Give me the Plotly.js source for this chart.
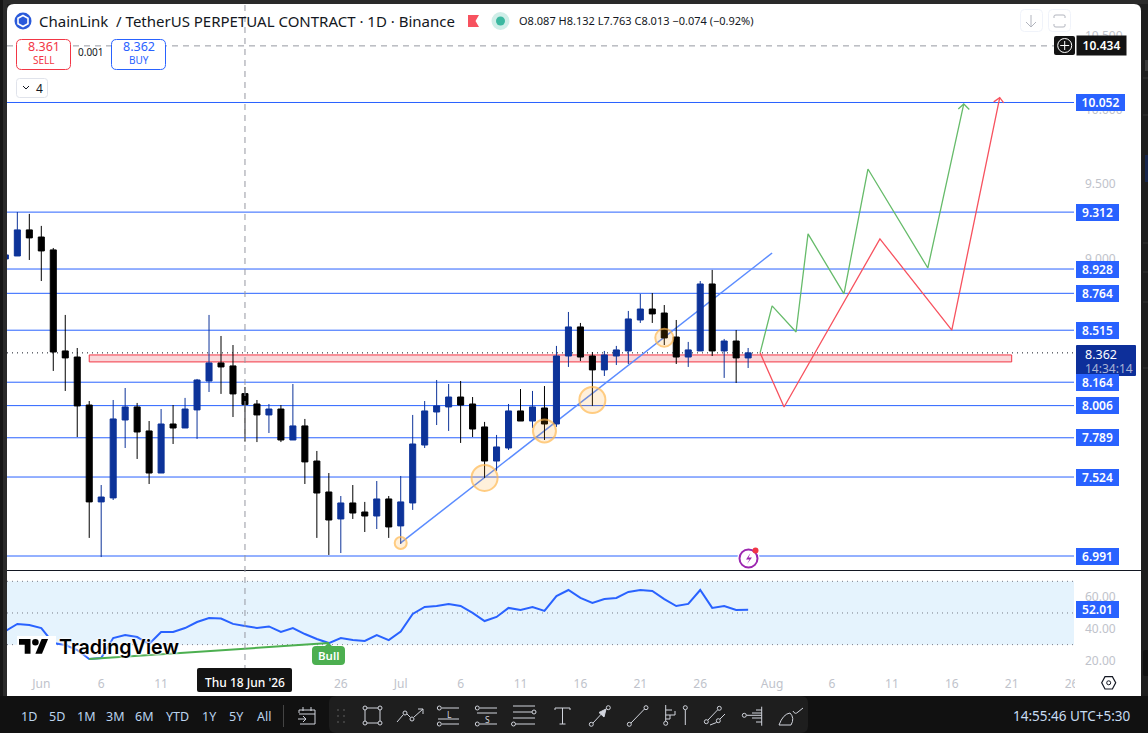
<!DOCTYPE html>
<html><head><meta charset="utf-8">
<script src="https://cdn.plot.ly/plotly-3.0.1.min.js"></script>
<style>html,body{margin:0;padding:0;background:#1e1e1e;overflow:hidden}#c{width:1148px;height:733px}</style>
</head><body><div id="c"></div>
<script>
// ---- data ----
const dates=['2026-05-29','2026-05-30','2026-05-31','2026-06-01','2026-06-02','2026-06-03','2026-06-04','2026-06-05','2026-06-06','2026-06-07','2026-06-08','2026-06-09','2026-06-10','2026-06-11','2026-06-12','2026-06-13','2026-06-14','2026-06-15','2026-06-16','2026-06-17','2026-06-18','2026-06-19','2026-06-20','2026-06-21','2026-06-22','2026-06-23','2026-06-24','2026-06-25','2026-06-26','2026-06-27','2026-06-28','2026-06-29','2026-06-30','2026-07-01','2026-07-02','2026-07-03','2026-07-04','2026-07-05','2026-07-06','2026-07-07','2026-07-08','2026-07-09','2026-07-10','2026-07-11','2026-07-12','2026-07-13','2026-07-14','2026-07-15','2026-07-16','2026-07-17','2026-07-18','2026-07-19','2026-07-20','2026-07-21','2026-07-22','2026-07-23','2026-07-24','2026-07-25','2026-07-26','2026-07-27','2026-07-28','2026-07-29','2026-07-30'];
const opens=[8.996,9.016,9.192,9.144,9.057,8.375,8.334,8.010,7.356,7.383,7.909,7.997,7.835,7.551,7.882,7.855,7.977,8.172,8.294,8.274,8.087,8.017,7.943,7.983,7.774,7.869,7.632,7.423,7.241,7.349,7.288,7.261,7.376,7.194,7.349,7.740,7.963,7.997,8.064,8.017,7.862,7.632,7.720,7.970,7.902,7.990,7.882,8.341,8.537,8.341,8.247,8.341,8.375,8.584,8.658,8.631,8.469,8.334,8.375,8.827,8.375,8.442,8.328];
const highs=[9.057,9.313,9.300,9.219,9.070,8.618,8.395,8.037,7.470,8.044,8.125,8.024,7.902,7.983,8.010,8.058,8.186,8.618,8.476,8.415,8.132,8.044,8.017,8.010,8.152,7.916,7.700,7.551,7.396,7.470,7.356,7.497,7.396,7.531,7.943,8.037,8.179,8.152,8.172,8.064,7.896,7.808,8.017,8.118,8.105,8.138,8.409,8.638,8.564,8.368,8.375,8.409,8.645,8.760,8.766,8.685,8.584,8.436,8.847,8.922,8.456,8.516,8.395];
const lows=[8.976,9.016,8.989,8.847,8.240,8.105,7.794,7.113,6.984,7.369,7.720,7.646,7.477,7.551,7.747,7.855,7.781,8.098,8.085,7.929,7.763,7.760,7.821,7.760,7.774,7.477,7.113,6.998,7.011,7.241,7.153,7.173,7.113,7.072,7.302,7.720,7.875,7.835,7.754,7.794,7.518,7.565,7.707,7.902,7.855,7.774,7.862,8.267,8.307,8.004,8.206,8.280,8.287,8.564,8.564,8.415,8.287,8.267,8.375,8.341,8.193,8.159,8.260];
const closes=[9.023,9.192,9.138,9.050,8.368,8.328,8.004,7.356,7.389,7.916,7.997,7.828,7.551,7.882,7.855,7.983,8.179,8.294,8.267,8.085,8.013,7.943,7.983,7.774,7.869,7.626,7.416,7.234,7.349,7.281,7.261,7.376,7.187,7.356,7.747,7.970,8.004,8.064,8.010,7.848,7.632,7.727,7.970,7.902,7.997,7.882,8.341,8.537,8.334,8.247,8.348,8.382,8.591,8.658,8.625,8.463,8.334,8.382,8.827,8.375,8.442,8.328,8.362];
const rsi=[38.6,43.05,42.4,40.5,31.0,29.8,26.6,20.9,21.6,34.2,36.1,34.8,30.4,38.0,38.0,40.5,44.3,46.8,46.5,43.1,41.8,40.5,41.5,38.0,40.5,36.7,33.6,31.0,34.2,32.9,32.3,36.1,32.9,38.2,49.4,53.8,54.4,55.7,54.4,50.0,44.9,47.5,53.2,51.9,53.8,51.3,60.7,64.5,59.5,56.3,58.8,59.5,63.3,64.5,63.9,58.8,54.4,55.7,64.5,53.2,54.4,51.9,52.01];
const levels=[10.052,9.312,8.928,8.764,8.515,8.164,8.006,7.789,7.524,6.991];
const priceTicks=[10.5,10,9.5,9];
const rsiTicks=[60,40,20];
const rsiBands=[70,50,30];
const timeTickDates=['2026-06-01','2026-06-06','2026-06-11','2026-06-26','2026-07-01','2026-07-06','2026-07-11','2026-07-16','2026-07-21','2026-07-26','2026-08-01','2026-08-06','2026-08-11','2026-08-16','2026-08-21','2026-08-26'];
const timeTickLabels=['Jun','6','11','26','Jul','6','11','16','21','26','Aug','6','11','16','21','26'];
const greenX=['2026-07-31','2026-08-01','2026-08-03','2026-08-04','2026-08-07','2026-08-09','2026-08-14','2026-08-17'];
const greenY=[8.362,8.679,8.503,9.165,8.760,9.603,8.935,10.042];
const greenHeadX=['2026-08-16 13:00','2026-08-17','2026-08-17 11:00'];
const greenHeadY=[10.008,10.042,10.005];
const redX=['2026-07-31','2026-08-02','2026-08-10','2026-08-16','2026-08-20'];
const redY=[8.362,7.997,9.131,8.516,10.085];
const redHeadX=['2026-08-19 12:00','2026-08-20','2026-08-20 08:00'];
const redHeadY=[10.056,10.085,10.050];
const trendX=['2026-07-01','2026-08-01'];
const trendY=[7.079,9.036];
const circleX=['2026-07-01','2026-07-08','2026-07-13','2026-07-17','2026-07-23'];
const circleY=[7.079,7.518,7.835,8.044,8.464];
const zoneX=['2026-06-05','2026-08-21'];
const zoneY=[8.348,8.301];
const bullX=['2026-06-05','2026-06-25'];
const bullY=[20.9,31.0];
const crossDate='2026-06-18';
const crossPrice=10.434;
const lastPrice=8.362;
const lastRsi=52.01;

// ---- page geometry helpers ----
const W=1148,H=733;
const FONT='"Noto Sans",sans-serif';
const BLUE='#2962ff';
const fx=x=>x/W, fy=y=>1-y/H;
const P=d=>d.replace(/(-?[\d.]+)[ ,](-?[\d.]+)/g,(m,a,b)=>fx(+a)+' '+fy(+b));
const shapes=[],notes=[];
const path=(d,o={})=>shapes.push({type:'path',xref:'paper',yref:'paper',path:P(d),layer:o.layer||'above',fillcolor:o.fill||'rgba(0,0,0,0)',line:{color:o.color||'rgba(0,0,0,0)',width:o.w===undefined?1:o.w}});
const rr=(a,b,c,d,r)=>`M${a+r} ${b} L${c-r} ${b} Q${c} ${b} ${c} ${b+r} L${c} ${d-r} Q${c} ${d} ${c-r} ${d} L${a+r} ${d} Q${a} ${d} ${a} ${d-r} L${a} ${b+r} Q${a} ${b} ${a+r} ${b} Z`;
const box=(a,b,c,d,r,o)=>path(rr(a,b,c,d,r),o);
const circ=(x,y,r,o={})=>shapes.push({type:'circle',xref:'paper',yref:'paper',x0:fx(x-r),x1:fx(x+r),y0:fy(y-r),y1:fy(y+r),layer:o.layer||'above',fillcolor:o.fill||'rgba(0,0,0,0)',line:{color:o.color||'rgba(0,0,0,0)',width:o.w===undefined?1:o.w}});
const txt=(s,x,y,o={})=>notes.push({text:s,xref:'paper',yref:'paper',x:fx(x),y:fy(y),xanchor:o.a||'left',yanchor:'middle',showarrow:false,borderpad:0,font:{family:o.f||FONT,size:o.s||12,color:o.c||'#131722',weight:o.wt||400,shadow:o.sh||'none'}});
const priceTag=(s,v,yr,w,h,bg)=>notes.push({text:s,xref:'paper',yref:yr,x:fx(1076),y:v,xanchor:'left',yanchor:'middle',showarrow:false,width:w,height:h,bgcolor:bg,borderpad:0,borderwidth:0,align:'center',font:{family:FONT,size:12,color:'#fff',weight:600}});

// ---- card and strips ----
path(rr(7,4,1141,720,7),{fill:'#fff',layer:'below'});
path('M0 0 L1148 0 L1148 4 L0 4 Z',{fill:'#2a2a2a',layer:'below'});
path('M0 0 L3 0 L3 733 L0 733 Z',{fill:'#161616',layer:'below'});
path('M3 0 L7 0 L7 733 L3 733 Z',{fill:'#2a2a2a',layer:'below'});
path('M1145 60 L1148 60 L1148 71 L1145 71 Z',{fill:'#3a3a3a',layer:'below'});
path('M1145 155 L1148 155 L1148 182 L1145 182 Z',{fill:'#17264d',layer:'below'});
path('M1143 78 L1148 78 M1143 115 L1148 115 M1143 243 L1148 243 M1143 272 L1148 272 M1143 302 L1148 302 M1143 368 L1148 368',{color:'#333',layer:'below'});

// ---- price levels, zone, trend line (behind the candles) ----
levels.forEach(v=>shapes.push({type:'line',xref:'paper',yref:'y',x0:fx(7),x1:fx(1074),y0:v,y1:v,layer:'below',line:{color:BLUE,width:1}}));
shapes.push({type:'line',xref:'paper',yref:'y',x0:fx(7),x1:fx(1054),y0:crossPrice,y1:crossPrice,layer:'below',line:{color:'#9598a1',width:1,dash:'6px,5px'}});
shapes.push({type:'line',xref:'paper',yref:'y',x0:fx(7),x1:fx(1074),y0:lastPrice,y1:lastPrice,layer:'below',line:{color:'#131722',width:1,dash:'1px,4px'}});
shapes.push({type:'rect',xref:'x',yref:'y',x0:zoneX[0],x1:zoneX[1],y0:zoneY[0],y1:zoneY[1],layer:'below',fillcolor:'#fad7da',line:{color:'#f23645',width:1}});
shapes.push({type:'line',xref:'x',yref:'y',x0:trendX[0],x1:trendX[1],y0:trendY[0],y1:trendY[1],layer:'below',line:{color:'#5b8cff',width:1.5}});
// RSI band
shapes.push({type:'rect',xref:'paper',yref:'y2',x0:fx(7),x1:fx(1074),y0:rsiBands[2],y1:rsiBands[0],layer:'below',fillcolor:'#e5f3fd',line:{width:0}});
rsiBands.forEach(v=>shapes.push({type:'line',xref:'paper',yref:'y2',x0:fx(7),x1:fx(1074),y0:v,y1:v,layer:'below',line:{color:'#787b86',width:1,dash:'1px,4px'}}));
// pane separator and crosshair
path('M7 570.5 L1141 570.5',{color:'#131722'});
shapes.push({type:'line',xref:'x',yref:'paper',x0:crossDate,x1:crossDate,y0:fy(5),y1:fy(672),layer:'above',line:{color:'#9598a1',width:1,dash:'6px,5px'}});
path('M1075 673 L1100 673 L1100 692 L1075 692 Z',{fill:'#fff'});

// ---- header ----
circ(23,21,8.5,{fill:'#2a5ada'});
path('M23 15.5 L28 18.2 L28 23.8 L23 26.5 L18 23.8 L18 18.2 Z',{color:'#fff',w:1.6});
txt('ChainLink &nbsp;/ TetherUS PERPETUAL CONTRACT · 1D · Binance',38,21,{s:15});
path('M468 15 L479 15 L475.5 21 L479 27 L468 27 Z',{fill:'#f7525f'});
circ(500.5,21,9,{fill:'#cfeee8'});circ(500.5,21,4.5,{fill:'#3bb8a0'});
txt('O8.087 H8.132 L7.763 C8.013 −0.074 (−0.92%)',518,21,{s:11});
box(16.5,39.5,70.5,69.5,5,{fill:'#fff',color:'#f23645'});
txt('8.361',43.5,46,{a:'center',c:'#f23645',s:12.5});
txt('SELL',43.5,60,{a:'center',c:'#f23645',s:10});
txt('0.001',91,52,{a:'center',s:10});
box(111.5,39.5,165.5,69.5,5,{fill:'#fff',color:BLUE});
txt('8.362',138.5,46,{a:'center',c:BLUE,s:12.5});
txt('BUY',138.5,60,{a:'center',c:BLUE,s:10});
box(16.5,78.5,47.5,97.5,3,{fill:'#fff',color:'#e0e3eb'});
path('M23 86 L26 89 L29 86',{color:'#131722'});
txt('4',39,88,{a:'center',s:12});
box(1020.5,9.5,1042.5,31.5,4,{color:'#f0f3fa'});
path('M1031 15 L1031 27 M1026 22 L1031 27 L1036 22',{color:'#b2b5be'});
box(1048.5,9.5,1070.5,31.5,4,{color:'#f0f3fa'});
path('M1054 18 L1054 16 Q1054 15 1056 15 L1063 15 Q1065 15 1065 16 L1065 18 M1054 24 L1054 26 Q1054 27 1056 27 L1063 27 Q1065 27 1065 26 L1065 24',{color:'#b2b5be'});
box(1054,36,1075,55,2,{fill:'#131313'});
circ(1064.7,45.5,7,{color:'#fff'});
path('M1064.7 41 L1064.7 50 M1060.2 45.5 L1069.2 45.5',{color:'#fff'});

// ---- price / RSI tags ----
levels.forEach(v=>{const big=v>=10;priceTag(v.toFixed(3),v,'y',big?49:43,17,BLUE);});
notes.push({text:crossPrice.toFixed(3),xref:'paper',yref:'y',x:fx(1076),y:crossPrice,xanchor:'left',yanchor:'middle',showarrow:false,width:49,height:19,bgcolor:'#131313',borderpad:0,align:'center',font:{family:FONT,size:12,color:'#fff',weight:600}});
box(1076,345,1136,376,1,{fill:'#0d2f9a'});
txt(lastPrice.toFixed(3),1084,354,{c:'#fff',s:12.5});
txt('14:34:14',1084,368,{c:'#a9b4d6',s:12});
priceTag(lastRsi.toFixed(2),lastRsi,'y2',43,17,BLUE);

// ---- event badge ----
circ(748.5,558,11,{fill:'#fff',layer:'above'});
circ(748.5,558.5,9,{color:'#9c27b0',w:2});
path('M750.5 553 L746 559.5 L749.5 559.5 L747 564 L752 557.5 L748.5 557.5 Z',{fill:'#9c27b0'});
circ(755.5,550.5,3,{fill:'#f23645'});

// ---- logo ----
path('M17 636 L56 636 L56 658 L17 658 Z',{fill:'#fff'});
path('M19 639 L30.5 639 L30.5 653.7 L24.7 653.7 L24.7 644.7 L19 644.7 Z',{fill:'#000'});
path('M42 653.7 L35.4 653.7 L41.6 639 L48.1 639 Z',{fill:'#000'});
circ(35.4,642.3,3.3,{fill:'#000'});
txt('TradingView',57.5,647,{s:19.7,f:'Inter,sans-serif',wt:600,c:'#000',sh:'0 0 2px #fff, 0 0 3px #fff, 0 0 4px #fff'});
// bull label
path('M316 646 L325 646 L328.5 642.5 L332 646 L341 646 Q345 646 345 650 L345 661 Q345 665 341 665 L316 665 Q312 665 312 661 L312 650 Q312 646 316 646 Z',{fill:'#4caf50'});
txt('Bull',328.5,655.5,{a:'center',c:'#fff',s:11.5,wt:600});

// ---- date tag and settings ----
box(197,668,292,692,2,{fill:'#131313'});
txt("Thu 18 Jun '26",244.5,682,{a:'center',c:'#fff',s:12,wt:500});
path('M1101.7 682.8 L1105 676.7 L1112.4 676.7 L1115.7 682.8 L1112.4 689 L1105 689 Z',{color:'#131722',w:1.2});
circ(1108.7,682.8,2,{color:'#131722'});

// ---- bottom toolbar ----
path('M0 696 L1148 696 L1148 733 L0 733 Z',{fill:'#111'});
box(329,696,808,733,7,{fill:'#1e1e1e'});
box(1143,650,1150,676,2,{fill:'#111'});
const TC='#d1d4dc';
[['1D',29],['5D',57],['1M',86],['3M',115],['6M',144],['YTD',177],['1Y',209],['5Y',236],['All',264]].forEach(b=>txt(b[0],b[1],716,{a:'center',c:'#bcd4ee',s:12.5}));
path('M283.5 705 L283.5 727',{color:'#444'});
txt('14:55:46 UTC+5:30',1131,716,{a:'right',c:'#c7dcf2',s:13.5});
// calendar
path('M299 713 L299 710 L315 710 L315 724 L300 724 M299 714 L315 714 M303 707 L303 711 M311 707 L311 711 M298 719 L306 719 M303 716 L306 719 L303 722',{color:TC});
// drag dots
[338,344].forEach(x=>[710,716,722].forEach(y=>circ(x,y,1,{fill:'#4a4a4a'})));
// rectangle
path('M365 708 L380 708 L380 723 L365 723 Z',{color:TC});
[[365,708],[380,708],[365,723],[380,723]].forEach(c=>circ(c[0],c[1],2,{color:TC,fill:'#1e1e1e'}));
// polyline
path('M397 722 L403 715 M407 714 L410 717 M414 717 L423 709 M418 709 L423 709 L423 714',{color:TC});
circ(405,713,2,{color:TC});circ(412,719,2,{color:TC});
// long
path('M442 708 L459 708 M438 719 L459 719 M442 724 L459 724',{color:TC});
circ(439.3,708,2,{color:TC});circ(439.3,724,2,{color:TC});
txt('L',449,714,{a:'center',c:TC,s:8.5});
// short
path('M480 708 L497 708 M477 713 L497 713 M480 724 L497 724',{color:TC});
circ(477.3,708,2,{color:TC});circ(477.3,724,2,{color:TC});
txt('S',487,719,{a:'center',c:TC,s:8.5});
// parallel lines
path('M513 706 L535 706 M513 712 L532 712 M513 718 L535 718 M516 724 L535 724',{color:TC});
circ(534,712,2,{color:TC});circ(513.5,724,2,{color:TC});
// T
path('M555 710 L555 708 L570 708 L570 710 M562.5 708 L562.5 724 M559.5 724 L565.5 724',{color:TC});
// arrow
path('M593 723 L606 709',{color:TC});
path('M606 709 L599 712.5 L604 717 Z',{fill:TC,color:TC});
circ(591.3,724.3,2,{color:TC});circ(608.3,707.7,2,{color:TC});
// line
path('M631 723 L644.5 709',{color:TC});
circ(629.3,724.3,2,{color:TC});circ(646,707.7,2,{color:TC});
// fib
path('M665.7 705 L665.7 721 M665.7 710 L672 710 M665.7 715 L675 715 L675 711 M665.7 719 L670 719 L670 715',{color:TC});
circ(665.7,723.3,2,{color:TC});
// pin
path('M685.3 710 L685.3 725',{color:TC});
circ(685.3,707.7,2,{color:TC});
// disjoint lines
path('M708 720 L717.5 710 M710 725 L716.5 722.5 M720 719 L725 714',{color:TC});
circ(719.3,708.3,2,{color:TC});circ(706.3,721.7,2,{color:TC});circ(718.3,720.7,2,{color:TC});
// gann-like
path('M746.5 715.3 L761.7 715.3 M761.7 706.7 L761.7 725.7 M756 710 L761.7 710 M752 713 L761.7 713 M752 718 L761.7 718 M756 722 L761.7 722',{color:TC});
circ(744.3,715.3,2,{color:TC});
// brush
path('M779 725 L791 725 Q795 718 790 713 Q783 714 779 725 M793 711 Q795 715 798 712 L803 708',{color:TC});

// ---- traces ----
const traces=[
{type:'candlestick',x:dates,open:opens,high:highs,low:lows,close:closes,xaxis:'x',yaxis:'y',hoverinfo:'skip',whiskerwidth:0,
 increasing:{line:{color:'#0d3399',width:1},fillcolor:'#0d3399'},
 decreasing:{line:{color:'#000',width:1},fillcolor:'#000'}},
{type:'scatter',mode:'markers',x:circleX,y:circleY,xaxis:'x',yaxis:'y',hoverinfo:'skip',
 marker:{size:[12,26,23,26,18],color:'rgba(255,152,0,0.2)',line:{color:'#ffb74d',width:2}}},
{type:'scatter',mode:'lines',x:greenX,y:greenY,xaxis:'x',yaxis:'y',hoverinfo:'skip',line:{color:'#66bb6a',width:1.3}},
{type:'scatter',mode:'lines',x:greenHeadX,y:greenHeadY,xaxis:'x',yaxis:'y',hoverinfo:'skip',line:{color:'#66bb6a',width:1.3}},
{type:'scatter',mode:'lines',x:redX,y:redY,xaxis:'x',yaxis:'y',hoverinfo:'skip',line:{color:'#f7525f',width:1.3}},
{type:'scatter',mode:'lines',x:redHeadX,y:redHeadY,xaxis:'x',yaxis:'y',hoverinfo:'skip',line:{color:'#f7525f',width:1.3}},
{type:'scatter',mode:'lines',x:dates,y:rsi,xaxis:'x',yaxis:'y2',hoverinfo:'skip',line:{color:BLUE,width:2}},
{type:'scatter',mode:'lines',x:bullX,y:bullY,xaxis:'x',yaxis:'y2',hoverinfo:'skip',line:{color:'#4caf50',width:2}}
];
const tickFont={family:FONT,size:12,color:'#c0c3cb'};
const layout={
 width:W,height:H,showlegend:false,paper_bgcolor:'#1e1e1e',plot_bgcolor:'rgba(0,0,0,0)',
 margin:{l:0,r:0,t:0,b:0,pad:0,autoexpand:false},boxgap:0.28,dragmode:false,
 xaxis:{type:'date',domain:[fx(7),fx(1074)],anchor:'y2',range:['2026-05-29 03:17','2026-08-26 04:48'],
  tickmode:'array',tickvals:timeTickDates,ticktext:timeTickLabels,tickfont:tickFont,ticklen:0,showgrid:false,zeroline:false,showline:false,fixedrange:true,
  rangeslider:{visible:false},ticklabelstandoff:2},
 yaxis:{domain:[fy(570),fy(5)],anchor:'x',side:'right',range:[6.8965,10.710],tickmode:'array',tickvals:priceTicks,tickformat:'.3f',tickfont:tickFont,ticklen:0,showgrid:false,zeroline:false,showline:false,fixedrange:true,ticklabelstandoff:10},
 yaxis2:{domain:[fy(673),fy(571)],anchor:'x',side:'right',range:[12.1,76.5],tickmode:'array',tickvals:rsiTicks,tickformat:'.2f',tickfont:tickFont,ticklen:0,showgrid:false,zeroline:false,showline:false,fixedrange:true,ticklabelstandoff:10},
 shapes:shapes,annotations:notes
};
Plotly.newPlot('c',traces,layout,{displayModeBar:false,staticPlot:true});
</script></body></html>
